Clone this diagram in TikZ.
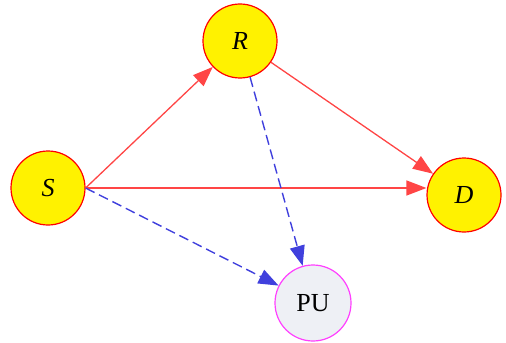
\documentclass[tikz,border=0pt]{standalone}
\usepackage{fontspec}
\setmainfont{Liberation Serif}
\usetikzlibrary{arrows.meta}
\definecolor{edgered}{HTML}{FF4545}
\definecolor{edgeblue}{HTML}{4040DD}
\definecolor{pufill}{HTML}{EEF0F5}
\definecolor{pudraw}{HTML}{FF40FF}
\begin{document}
\begin{tikzpicture}[x=0.5pt,y=-0.5pt,
  agent/.style={circle,draw=red,fill=yellow,line width=0.6pt,minimum size=37pt,inner sep=0pt,font=\fontsize{13}{15}\selectfont\itshape},
  pu/.style={circle,draw=pudraw,fill=pufill,line width=0.6pt,minimum size=38pt,inner sep=0pt,font=\fontsize{13}{15}\selectfont},
  redarrow/.style={draw=edgered,line width=0.65pt,-{Triangle[length=10pt,width=7.5pt]},edgered},
  bluearrow/.style={draw=edgeblue,line width=0.7pt,dash pattern=on 5pt off 2.5pt,-{Triangle[length=10pt,width=7.5pt]},edgeblue}]
\useasboundingbox (0,0) rectangle (506,342);
\node[agent] (R) at (240,41) {R};
\node[agent] (S) at (48,188) {S};
\node[agent] (D) at (464,195) {D};
\node[pu] (PU) at (313,303) {PU};
\draw[redarrow] (S.east) -- (R);
\draw[redarrow] (S.east) -- (S.east -| D.west);
\draw[redarrow] (R) -- (D);
\draw[bluearrow] (R) -- (PU);
\draw[bluearrow] (S.east) -- (PU);
\end{tikzpicture}
\end{document}
